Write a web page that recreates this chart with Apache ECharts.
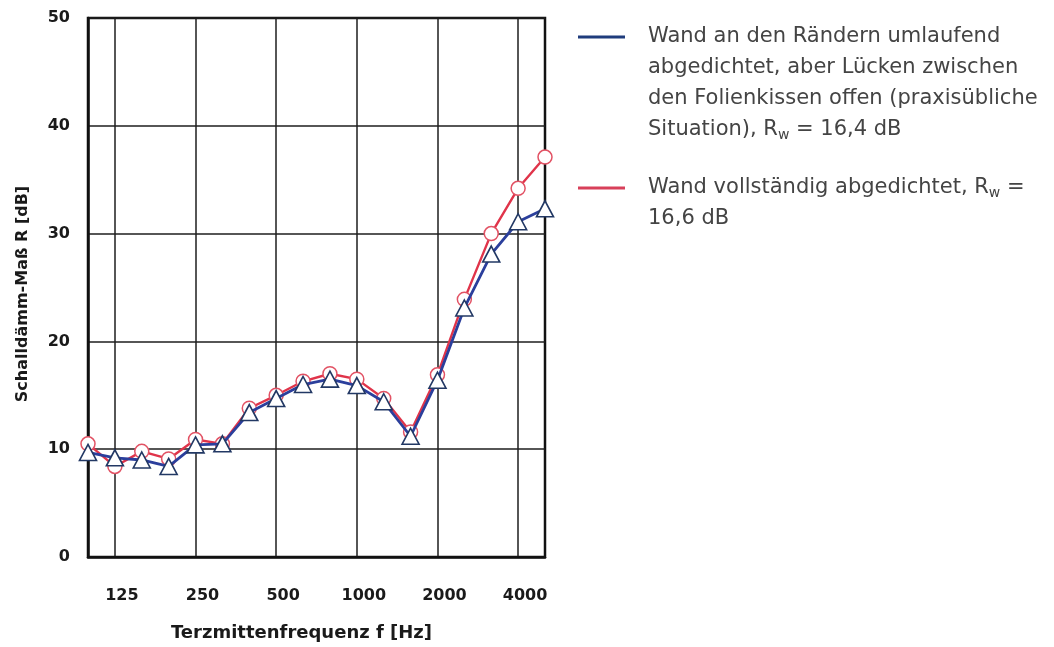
<!DOCTYPE html>
<html>
<head>
<meta charset="utf-8">
<script src="https://cdn.jsdelivr.net/npm/echarts@6/dist/echarts.min.js"></script>
<style>
html,body{margin:0;padding:0;background:#fff;}
#chart{width:1054px;height:647px;}
</style>
</head>
<body>
<div id="chart"></div>
<script>
const categories = ['100','125','160','200','250','315','400','500','630','800','1000','1250','1600','2000','2500','3150','4000','5000'];
const xTickLabels = ['125','250','500','1000','2000','4000'];
const yMin = 0, yMax = 50, yStep = 10;
const blueName = 'Wand an den Rändern umlaufend abgedichtet, aber Lücken zwischen den Folienkissen offen (praxisübliche Situation), Rw = 16,4 dB';
const redName = 'Wand vollständig abgedichtet, Rw = 16,6 dB';
const blueLegendLines = ['Wand an den Rändern umlaufend', 'abgedichtet, aber Lücken zwischen', 'den Folienkissen offen (praxisübliche', 'Situation), R{w|w} = 16,4 dB'];
const redLegendLines = ['Wand vollständig abgedichtet, R{w|w} =', '16,6 dB'];
const blueValues = [9.7, 9.2, 9.0, 8.4, 10.4, 10.5, 13.4, 14.7, 16.0, 16.5, 15.9, 14.4, 11.2, 16.4, 23.1, 28.1, 31.1, 32.3];
const redValues  = [10.5, 8.4, 9.8, 9.1, 10.9, 10.5, 13.8, 15.0, 16.3, 17.0, 16.5, 14.7, 11.6, 16.9, 23.9, 30.0, 34.2, 37.1];

const FONT = 'DejaVu Sans';
const LH = 31;
const showTick = (i) => xTickLabels.indexOf(categories[i]) >= 0;

function legendCfg(name, lines, color, top) {
  return {
    data: [{ name: name, itemStyle: { color: color, borderWidth: 0 } }],
    left: 578, top: top, padding: 0,
    icon: 'rect', itemWidth: 47, itemHeight: 3,
    selectedMode: false,
    formatter: () => lines.join('\n'),
    textStyle: {
      fontFamily: FONT, fontSize: 21, color: '#444', lineHeight: LH,
      padding: [(lines.length - 1) * LH, 0, 0, 18],
      rich: { w: { fontFamily: FONT, fontSize: 14, color: '#444', padding: [10, 0, 0, 0] } }
    }
  };
}

const chart = echarts.init(document.getElementById('chart'));
chart.setOption({
  animation: false,
  backgroundColor: '#fff',
  grid: { left: 88, right: 509, top: 18, bottom: 90, show: true, borderColor: '#111', borderWidth: 2.5, backgroundColor: 'transparent' },
  legend: [
    legendCfg(blueName, blueLegendLines, '#1f3c7c', 37 - ((blueLegendLines.length - 1) * LH * 2 + LH) / 2),
    legendCfg(redName, redLegendLines, '#d8405a', 188 - ((redLegendLines.length - 1) * LH * 2 + LH) / 2)
  ],
  xAxis: {
    type: 'category', data: categories, boundaryGap: false,
    axisLine: { show: true, lineStyle: { color: '#111', width: 2.5 } },
    axisTick: { show: false },
    axisLabel: { interval: (i) => showTick(i), margin: 31, fontFamily: FONT, fontSize: 16, fontWeight: 'bold', color: '#1a1a1a', padding: [0, 0, 0, 14] },
    splitLine: { show: true, interval: (i) => showTick(i), lineStyle: { color: '#1e1e1e', width: 1.5 } },
    name: 'Terzmittenfrequenz f [Hz]', nameLocation: 'middle', nameGap: 67,
    nameTextStyle: { fontFamily: FONT, fontSize: 18, fontWeight: 'bold', color: '#1a1a1a', padding: [0, 30, 0, 0] }
  },
  yAxis: {
    type: 'value', min: yMin, max: yMax, interval: yStep,
    axisLine: { show: true, lineStyle: { color: '#111', width: 2.5 } },
    axisTick: { show: false },
    axisLabel: { margin: 18, fontFamily: FONT, fontSize: 16, fontWeight: 'bold', color: '#1a1a1a' },
    splitLine: { show: true, lineStyle: { color: '#1e1e1e', width: 1.5 } },
    name: 'Schalldämm-Maß R [dB]', nameLocation: 'middle', nameGap: 57,
    nameTextStyle: { fontFamily: FONT, fontSize: 16, fontWeight: 'bold', color: '#1a1a1a', padding: [0, 13, 0, 0] }
  },
  series: [
    {
      name: redName, type: 'line', data: redValues, z: 2,
      symbol: 'circle', symbolSize: 14,
      lineStyle: { color: '#e0344a', width: 2.4 },
      itemStyle: { color: '#fff', borderColor: '#e25264', borderWidth: 1.5 }
    },
    {
      name: blueName, type: 'line', data: blueValues, z: 3,
      symbol: 'triangle', symbolSize: [17, 16],
      lineStyle: { color: '#2b3f9c', width: 2.8 },
      itemStyle: { color: '#fff', borderColor: '#223864', borderWidth: 1.6 }
    }
  ]
});
</script>
</body>
</html>
